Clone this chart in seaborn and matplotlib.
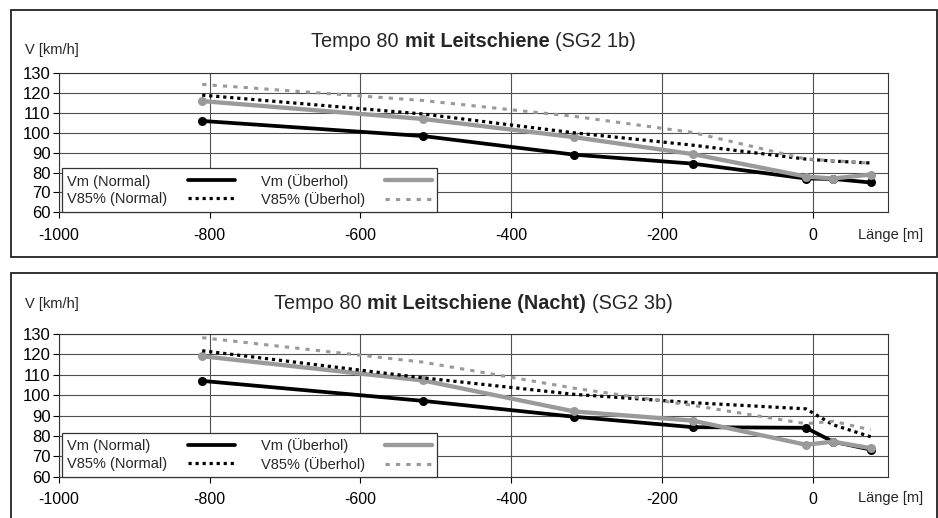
import matplotlib
matplotlib.use('Agg')
import pandas as pd
import seaborn as sns
import matplotlib.pyplot as plt
from matplotlib.lines import Line2D
from matplotlib.patches import Rectangle

# %%
# Messquerschnitte (Länge in m)
laenge = [-810, -517, -316, -159, -9, 27, 77]

# SG2 1b (Tag)
vm_normal_1 = [106, 98.4, 89, 84.5, 77, 76.8, 75]
vm_ueberhol_1 = [116, 107, 97.8, 89.3, 78, 77, 79]
v85_normal_1 = [119, 109.5, 100, 93.8, 86.8, 85.8, 84.8]
v85_ueberhol_1 = [124.4, 116.3, 108.3, 100.2, 86.8, 86, 84.7]

# SG2 3b (Nacht)
vm_normal_2 = [107, 97.2, 89.4, 84.3, 84, 77.2, 73.3]
vm_ueberhol_2 = [119.1, 107.2, 92, 87.5, 75.7, 77.2, 74]
v85_normal_2 = [121.8, 108.5, 100.4, 96.3, 93.3, 85.5, 79.6]
v85_ueberhol_2 = [128.2, 116.2, 103.4, 95, 86, 87.2, 83]

labels = ['Vm (Normal)', 'V85% (Normal)', 'Vm (Überhol)', 'V85% (Überhol)']
x_ticks = list(range(-1000, 1, 200))
y_ticks = list(range(60, 131, 10))

titel_1 = [('Tempo 80', 'normal'), ('mit Leitschiene', 'bold'), ('(SG2 1b)', 'normal')]
titel_2 = [('Tempo 80', 'normal'), ('mit Leitschiene (Nacht)', 'bold'), ('(SG2 3b)', 'normal')]

# %%
sns.set_theme(style='white')
plt.rcParams['font.family'] = ['Liberation Sans', 'DejaVu Sans']
plt.rcParams['axes.unicode_minus'] = False

GRAU = '#9a9a9a'
stile = {
    'Vm (Normal)': dict(color='black', lw=2.7, marker='o', markersize=6.5, linestyle='-'),
    'V85% (Normal)': dict(color='black', lw=2.3, linestyle=(0, (1, 1.2))),
    'Vm (Überhol)': dict(color=GRAU, lw=3.1, marker='o', markersize=6.5, linestyle='-'),
    'V85% (Überhol)': dict(color=GRAU, lw=2.2, linestyle=(0, (1.4, 2.0))),
}

fig = plt.figure(figsize=(9.38, 5.18), dpi=100)

# Rahmen um beide Diagramme
fig.patches.append(Rectangle((0.0112, 0.5039), 0.9875, 0.4768, transform=fig.transFigure,
                             fill=False, edgecolor='#222222', lw=1.3))
fig.patches.append(Rectangle((0.0112, -0.02), 0.9875, 0.4936, transform=fig.transFigure,
                             fill=False, edgecolor='#222222', lw=1.3))

ax1 = fig.add_axes([0.0629, 0.5902, 0.8838, 0.2683])
ax2 = fig.add_axes([0.0629, 0.0797, 0.8838, 0.2755])

panels = [
    (ax1, [vm_normal_1, v85_normal_1, vm_ueberhol_1, v85_ueberhol_1], titel_1, 0.9195, 0.9035, 0.5463),
    (ax2, [vm_normal_2, v85_normal_2, vm_ueberhol_2, v85_ueberhol_2], titel_2, 0.4144, 0.4125, 0.038),
]

legenden = []
for ax, reihen, titel, y_titel, y_vlabel, y_laenge in panels:
    daten = pd.DataFrame(dict(zip(labels, reihen)))
    daten['Länge'] = laenge
    for lab in ['Vm (Normal)', 'Vm (Überhol)', 'V85% (Normal)', 'V85% (Überhol)']:
        kw = dict(stile[lab])
        kw.setdefault('marker', None)
        sns.lineplot(data=daten, x='Länge', y=lab, ax=ax, errorbar=None,
                     markeredgewidth=0, solid_capstyle='butt', dash_capstyle='butt', **kw)

    ax.set_xlim(-1000, 100)
    ax.set_ylim(60, 130)
    ax.set_xticks(x_ticks)
    ax.set_yticks(y_ticks)
    ax.set_xlabel('')
    ax.set_ylabel('')
    ax.grid(True, color='#505050', lw=0.8)
    ax.tick_params(axis='both', direction='out', length=4, width=0.8, color='black',
                   bottom=True, left=True, labelcolor='black')
    ax.tick_params(axis='x', labelsize=11.5, pad=7)
    ax.tick_params(axis='y', labelsize=12, pad=2)
    for sp in ax.spines.values():
        sp.set_color('#333333')
        sp.set_linewidth(0.8)

    handles = []
    for lab in labels:
        kw = dict(stile[lab])
        kw.pop('marker', None)
        kw.pop('markersize', None)
        handles.append(Line2D([], [], **kw))
    leg = ax.legend(handles, labels, ncol=2, loc='lower left', bbox_to_anchor=(0.004, 0.0),
                    markerfirst=False, fontsize=10.5, frameon=True, fancybox=False,
                    framealpha=1, edgecolor='#333333', borderpad=0.35, labelspacing=0.25,
                    handlelength=3.2, handletextpad=1.4, columnspacing=1.8, borderaxespad=0)
    leg.get_frame().set_linewidth(0.9)
    leg.set_zorder(5)
    legenden.append(leg)

    fig.text(0.027, y_vlabel, 'V [km/h]', fontsize=10.5, ha='left', va='center')
    fig.text(0.949, y_laenge, 'Länge [m]', fontsize=10.5, ha='center', va='center')

    # Titel mit fettem Mittelteil, danach zentrieren
    teile = []
    erster = fig.text(0.3, y_titel, titel[0][0], fontsize=14.3, fontweight=titel[0][1],
                      ha='left', va='center')
    teile.append(erster)
    for s, w in titel[1:]:
        t = ax.annotate(s, xy=(1, 0), xycoords=teile[-1], xytext=(4, 0),
                        textcoords='offset points', fontsize=14.3, fontweight=w,
                        ha='left', va='bottom', annotation_clip=False)
        teile.append(t)
    fig.canvas.draw()
    r = fig.canvas.get_renderer()
    x0 = teile[0].get_window_extent(r).x0
    x1 = teile[-1].get_window_extent(r).x1
    erster.set_x(0.3 + (473.5 - (x0 + x1) / 2) / fig.bbox.width)

# Legendentexte linksbündig, Linien rechts in der Spalte
fig.canvas.draw()
r = fig.canvas.get_renderer()
for leg in legenden:
    for spalte in leg._legend_handle_box.get_children():
        eintraege = spalte.get_children()
        breite = max(e.get_bbox(r).width for e in eintraege)
        for e in eintraege:
            e.mode = 'expand'
            e.width = breite
        spalte.align = 'left'

fig.savefig('out.png', dpi=100)
